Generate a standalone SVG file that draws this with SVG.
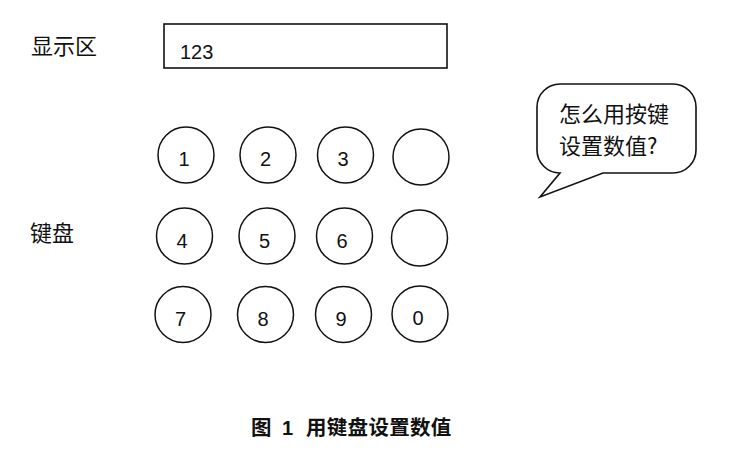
<svg xmlns="http://www.w3.org/2000/svg" width="732" height="456" viewBox="0 0 732 456">
<style>
.cjk{font-family:"Noto Sans CJK SC","Noto Sans",sans-serif;fill:#111;}
.lbl{font-size:22px;}
.num{font-family:"Liberation Sans","Noto Sans",sans-serif;font-size:20px;fill:#111;}
.key{fill:#fff;stroke:#111;stroke-width:1.5;}
.box{fill:#fff;stroke:#111;stroke-width:1.6;}
.cap{font-size:20.5px;font-weight:bold;}
</style>
<rect width="732" height="456" fill="#fff"/>
<g id="label-display"><text class="cjk lbl" x="31" y="53.5">显示区</text></g>
<g id="display"><rect class="box" x="164" y="24" width="283" height="44"/><text class="num" x="180" y="58.5">123</text></g>
<g id="label-keyboard"><text class="cjk lbl" x="30" y="240.5">键盘</text></g>
<g id="keys">
<g id="key-1"><circle class="key" cx="186" cy="155" r="28"/><text class="num" x="184" y="166" text-anchor="middle">1</text></g>
<g id="key-2"><circle class="key" cx="268" cy="155" r="28"/><text class="num" x="265.5" y="166" text-anchor="middle">2</text></g>
<g id="key-3"><circle class="key" cx="345.5" cy="155" r="28"/><text class="num" x="343" y="166" text-anchor="middle">3</text></g>
<g id="key-blank-1"><circle class="key" cx="421" cy="157" r="28"/></g>
<g id="key-4"><circle class="key" cx="184.5" cy="236" r="28"/><text class="num" x="182" y="247.5" text-anchor="middle">4</text></g>
<g id="key-5"><circle class="key" cx="267" cy="236" r="28"/><text class="num" x="264.5" y="247.5" text-anchor="middle">5</text></g>
<g id="key-6"><circle class="key" cx="344.5" cy="236" r="28"/><text class="num" x="342" y="247.5" text-anchor="middle">6</text></g>
<g id="key-blank-2"><circle class="key" cx="419.5" cy="238" r="28"/></g>
<g id="key-7"><circle class="key" cx="183" cy="314.5" r="28"/><text class="num" x="180.5" y="325.5" text-anchor="middle">7</text></g>
<g id="key-8"><circle class="key" cx="265.5" cy="314.5" r="28"/><text class="num" x="263" y="325.5" text-anchor="middle">8</text></g>
<g id="key-9"><circle class="key" cx="343.5" cy="314.5" r="28"/><text class="num" x="341" y="325.5" text-anchor="middle">9</text></g>
<g id="key-0"><circle class="key" cx="420" cy="314" r="28"/><text class="num" x="418" y="325" text-anchor="middle">0</text></g>
</g>
<g id="bubble">
<path class="box" d="M560 84 H673 A23 23 0 0 1 696 107 V150 A23 23 0 0 1 673 173 H603 L540 197 L560 173 A23 23 0 0 1 537 150 V107 A23 23 0 0 1 560 84 Z"/>
<text class="cjk lbl" x="559" y="121.5">怎么用按键</text>
<text class="cjk lbl" x="559" y="153.5">设置数值?</text>
</g>
<g id="connectors"></g>
<g id="caption">
<text class="cjk cap" x="251" y="434.5">图</text>
<text class="num" x="282" y="434.5" font-weight="bold" font-size="19">1</text>
<text class="cjk cap" x="306" y="434.5" letter-spacing="0.3">用键盘设置数值</text>
</g>
</svg>
